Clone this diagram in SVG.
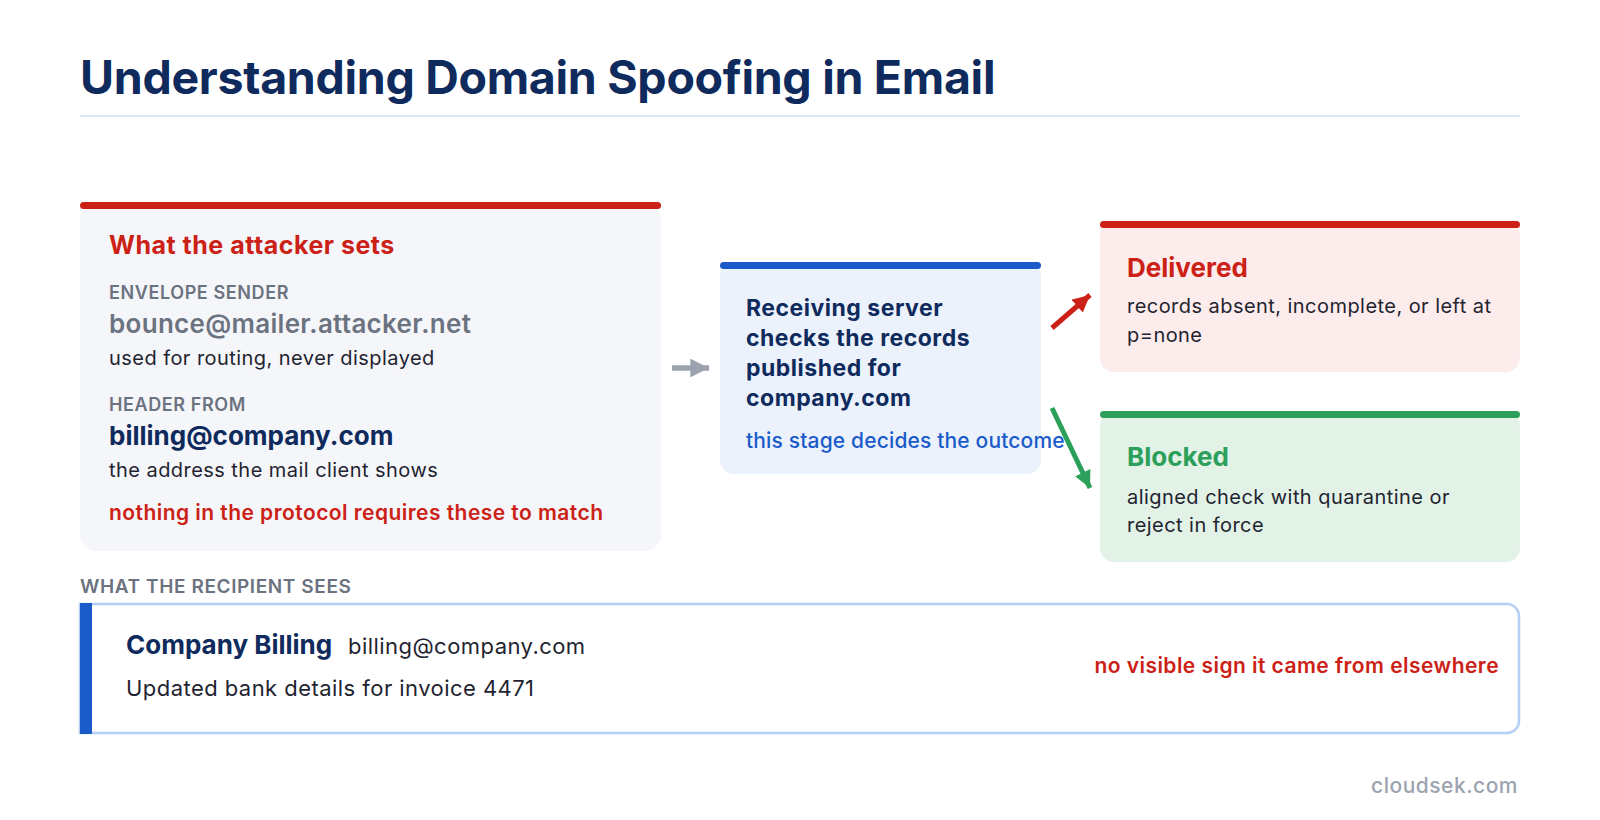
<svg xmlns="http://www.w3.org/2000/svg" width="1600" height="820" viewBox="0 0 1600 820">
<defs>
<style>
text{font-family:Inter,"Liberation Sans",sans-serif}
.title{font-size:46.5px;font-weight:700;fill:#0f2a5c;letter-spacing:-0.3px}
.h-red{font-size:25px;font-weight:700;fill:#cc2116;letter-spacing:0.5px}
.h-green{font-size:26px;font-weight:700;fill:#2ca05a}
.lab{font-size:18px;font-weight:600;fill:#6b7280;letter-spacing:0.6px}
.body{font-size:20px;font-weight:400;fill:#1f2430;letter-spacing:0.45px}
.navy{fill:#0f2a5c;font-weight:700}
.warn{font-size:21px;font-weight:600;fill:#cc2116;letter-spacing:0.45px}
.mid{font-size:23px;font-weight:700;fill:#0f2a5c;letter-spacing:0.5px}
.msg{font-size:22px;fill:#1f2430;letter-spacing:0.45px}
</style>
<marker id="ag" viewBox="0 0 10 10" refX="10" refY="5" markerWidth="3.4" markerHeight="3.4" orient="auto"><path d="M0,0L10,5L0,10z" fill="#9ca3af"/></marker>
<marker id="ar" viewBox="0 0 10 10" refX="10" refY="5" markerWidth="3.4" markerHeight="3.4" orient="auto"><path d="M0,0L10,5L0,10z" fill="#cc2116"/></marker>
<marker id="agr" viewBox="0 0 10 10" refX="10" refY="5" markerWidth="3.4" markerHeight="3.4" orient="auto"><path d="M0,0L10,5L0,10z" fill="#2ca05a"/></marker>
</defs>
<rect width="1600" height="820" fill="#ffffff"/>
<text class="title" x="80" y="94">Understanding Domain Spoofing in Email</text>
<rect x="80" y="115" width="1440" height="2" fill="#dce6f6"/>

<g id="attacker">
<rect x="80" y="203" width="581" height="348" rx="16" fill="#f5f6fa"/>
<rect x="80" y="202" width="581" height="7" rx="3.5" fill="#cc2116"/>
<text class="h-red" x="109" y="254">What the attacker sets</text>
<text class="lab" x="109" y="299">ENVELOPE SENDER</text>
<text x="109" y="333" style="font-size:26px;font-weight:600;fill:#6b7280;letter-spacing:0.3px">bounce@mailer.attacker.net</text>
<text class="body" x="109" y="365">used for routing, never displayed</text>
<text class="lab" x="109" y="411">HEADER FROM</text>
<text class="navy" x="109" y="445" style="font-size:26px">billing@company.com</text>
<text class="body" x="109" y="477">the address the mail client shows</text>
<text class="warn" x="109" y="520">nothing in the protocol requires these to match</text>
</g>

<g id="server">
<rect x="720" y="263" width="321" height="211" rx="14" fill="#ebf2fc"/>
<rect x="720" y="262" width="321" height="7" rx="3.5" fill="#1a5bc9"/>
<text class="mid" x="746" y="316">Receiving server</text>
<text class="mid" x="746" y="346">checks the records</text>
<text class="mid" x="746" y="376">published for</text>
<text class="mid" x="746" y="406">company.com</text>
<text x="746" y="448" style="font-size:21px;font-weight:500;fill:#1a5bc9;letter-spacing:0.15px">this stage decides the outcome</text>
</g>

<g id="delivered">
<rect x="1100" y="222" width="420" height="150" rx="14" fill="#fdecec"/>
<rect x="1100" y="221" width="420" height="7" rx="3.5" fill="#cc2116"/>
<text x="1127" y="277" style="font-size:26px;font-weight:700;fill:#cc2116">Delivered</text>
<text class="body" x="1127" y="313">records absent, incomplete, or left at</text>
<text class="body" x="1127" y="342">p=none</text>
</g>

<g id="blocked">
<rect x="1100" y="412" width="420" height="150" rx="14" fill="#e2f2e7"/>
<rect x="1100" y="411" width="420" height="7" rx="3.5" fill="#2ca05a"/>
<text class="h-green" x="1127" y="466">Blocked</text>
<text class="body" x="1127" y="504">aligned check with quarantine or</text>
<text class="body" x="1127" y="532">reject in force</text>
</g>

<g id="connectors">
<line x1="672" y1="368" x2="709" y2="368" stroke="#9ca3af" stroke-width="5.5" marker-end="url(#ag)"/>
<line x1="1052" y1="328" x2="1090" y2="295" stroke="#cc2116" stroke-width="5" marker-end="url(#ar)"/>
<line x1="1052" y1="408" x2="1090" y2="488" stroke="#2ca05a" stroke-width="5" marker-end="url(#agr)"/>
</g>

<g id="recipient">
<text class="lab" x="80" y="593" style="font-size:19px">WHAT THE RECIPIENT SEES</text>
<path d="M80,604 H1507 A12,12 0 0 1 1519,616 V721 A12,12 0 0 1 1507,733 H80 Z" fill="#ffffff" stroke="#b3cff5" stroke-width="2.5"/>
<rect x="80" y="603" width="12" height="131" fill="#1a5bc9"/>
<text x="126" y="654" style="font-size:26px;font-weight:700;fill:#0f2a5c">Company Billing</text>
<text class="msg" x="348" y="654">billing@company.com</text>
<text class="msg" x="126" y="696">Updated bank details for invoice 4471</text>
<text class="warn" x="1499" y="673" text-anchor="end">no visible sign it came from elsewhere</text>
</g>
<text x="1518" y="793" text-anchor="end" style="font-size:21px;font-weight:500;fill:#9ca3af;letter-spacing:0.5px">cloudsek.com</text>
</svg>
